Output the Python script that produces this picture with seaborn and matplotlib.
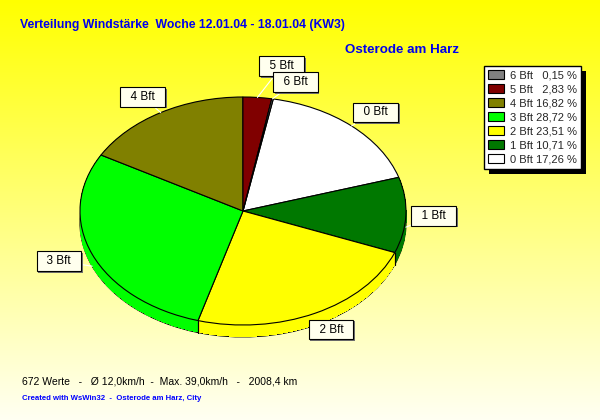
import numpy as np
import matplotlib
matplotlib.use('Agg')
import matplotlib.pyplot as plt
import matplotlib.patheffects as pe
from matplotlib.patches import Patch
import seaborn as sns

# ---- data ----
categories = ['0 Bft', '1 Bft', '2 Bft', '3 Bft', '4 Bft', '5 Bft', '6 Bft']
shares = [17.26, 10.71, 23.51, 28.72, 16.82, 2.83, 0.15]
slice_colors = ['#FFFFFF', '#007800', '#FFFF00', '#00FF00', '#808000', '#800000', '#808080']
title = 'Verteilung Windstärke  Woche 12.01.04 - 18.01.04 (KW3)'
subtitle = 'Osterode am Harz'
footer = '672 Werte   -   Ø 12,0km/h  -  Max. 39,0km/h   -   2008,4 km'
credit = 'Created with WsWin32  -  Osterode am Harz, City'

sns.set_style('white')
plt.rcParams['font.family'] = ['Liberation Sans', 'DejaVu Sans']

W, H = 600, 420
fig = plt.figure(figsize=(W / 100, H / 100), dpi=100)

# gradient background
bg = fig.add_axes([0, 0, 1, 1], zorder=-10)
grad = np.linspace(0, 1, 256)[:, None, None]
top = np.array([1.0, 1.0, 0.0])
bot = np.array([1.0, 1.0, 0.95])
img = top + (bot - top) * grad
bg.imshow(img, aspect='auto', extent=[0, 1, 0, 1])
bg.axis('off')

# pie axes (ellipse)
cx, cy, rx, ry = 243, 211, 163, 114
ax = fig.add_axes([(cx - rx) / W, (H - cy - ry) / H, 2 * rx / W, 2 * ry / H])
depth = 0.105
start = 79.3
wp = dict(edgecolor='black', linewidth=0.8)
ax.pie(shares, colors=slice_colors, startangle=start, counterclock=False,
       center=(0, -depth), wedgeprops=wp)
for d in np.linspace(depth, 0, 24, endpoint=False)[1:]:
    ax.pie(shares, colors=slice_colors, startangle=start, counterclock=False,
           center=(0, -d), wedgeprops=dict(linewidth=0, antialiased=False))
wedges, _ = ax.pie(shares, colors=slice_colors, startangle=start,
                   counterclock=False, wedgeprops=wp)
for p in ax.patches:
    p.set_clip_on(False)

# vertical edges of the side band
for w in wedges:
    for a in (w.theta1, w.theta2):
        r = np.deg2rad(a)
        if np.sin(r) < -0.05:
            ax.plot([np.cos(r)] * 2, [np.sin(r), np.sin(r) - depth], color='black',
                    lw=0.8, clip_on=False, zorder=3)

ax.set_aspect('auto')
ax.set_xlim(-1, 1)
ax.set_ylim(-1, 1)
ax.axis('off')

# labels
label_shift = {'5 Bft': (0.13, 0.115), '6 Bft': (0.10, -0.01), '1 Bft': (-0.05, 0)}
for w, lab in zip(wedges, categories):
    r = np.deg2rad((w.theta1 + w.theta2) / 2)
    c, s = np.cos(r), np.sin(r)
    ey = s - depth if s < 0 else s
    dx, dy = label_shift.get(lab, (0, 0))
    ann = ax.annotate(f'  {lab}  ', xy=(c, ey), xytext=(1.22 * c + dx, 1.16 * s + dy),
                      ha='center', va='center', fontsize=8.5, color='black',
                      bbox=dict(boxstyle='square,pad=0.32', fc='#FFFFEE', ec='black', lw=0.8),
                      arrowprops=dict(arrowstyle='-', color='white', lw=0.8,
                                      shrinkA=0, shrinkB=0),
                      annotation_clip=False, zorder=6)
    ann.get_bbox_patch().set_path_effects([
        pe.SimplePatchShadow(offset=(1.2, -1.2), shadow_rgbFace='#707070', alpha=1),
        pe.Normal()])

# titles
fig.text(20 / W, 1 - 25 / H, title, color='#0000EE', fontweight='bold',
         fontsize=8.8, va='center', ha='left')
fig.text(345 / W, 1 - 50 / H, subtitle, color='#0000EE', fontweight='bold',
         fontsize=9.6, va='center', ha='left')
fig.text(22 / W, 1 - 382 / H, footer, color='black', fontsize=7.5,
         va='center', ha='left')
fig.text(22 / W, 1 - 399 / H, credit, color='#0000FF', fontsize=5.6,
         fontweight='bold', va='center', ha='left')

# legend
fsp = '\u2007'
handles = [Patch(facecolor=col, edgecolor='black', linewidth=0.8) for col in slice_colors]
labels = [f"{cat} " + f"{v:.2f}".replace('.', ',').rjust(5, fsp) + " %"
          for cat, v in zip(categories, shares)]
leg = fig.legend(handles[::-1], labels[::-1], loc='upper left',
                 bbox_to_anchor=(484 / W, 1 - 66 / H), frameon=True, fancybox=False,
                 edgecolor='black', facecolor='white', framealpha=1, fontsize=8,
                 handlelength=1.4, handleheight=0.85, handletextpad=0.5,
                 labelspacing=0.33, borderpad=0.4, borderaxespad=0)
leg.get_frame().set_linewidth(1)
leg.legendPatch.set_path_effects([
    pe.SimplePatchShadow(offset=(3.5, -3.5), shadow_rgbFace='black', alpha=1),
    pe.Normal()])

fig.savefig('out.png', dpi=100)
